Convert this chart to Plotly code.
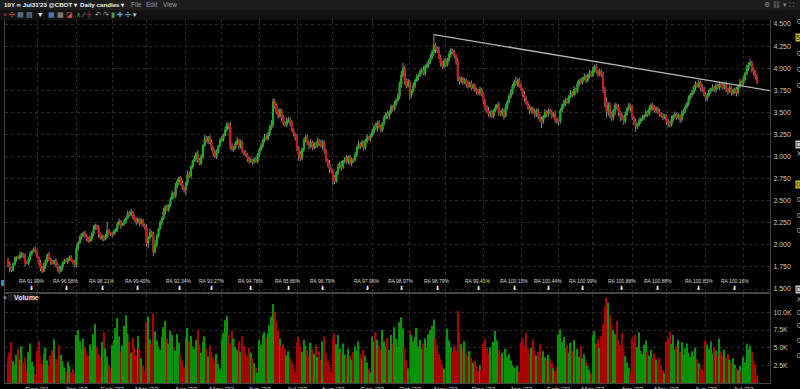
import pandas as pd
import plotly.graph_objects as go

# ---------------- data ----------------
start_date = "2021-11-08"          # first daily candle (business days follow)
first_open = 1.83

closes = [
    # Nov 2021 (17)
    1.78, 1.74, 1.71, 1.78, 1.84, 1.86, 1.85, 1.88, 1.90, 1.87, 1.80, 1.79, 1.84, 1.90, 1.93, 1.95, 1.92,
    # Dec 2021 (23)
    1.86, 1.80, 1.74, 1.70, 1.76, 1.82, 1.89, 1.84, 1.81, 1.79, 1.82, 1.78, 1.72, 1.70, 1.75, 1.80, 1.82, 1.81, 1.84, 1.86, 1.82, 1.80, 1.77,
    # Jan 2022 (21)
    1.96, 2.02, 2.08, 2.12, 2.13, 2.10, 2.08, 2.04, 2.07, 2.12, 2.18, 2.22, 2.19, 2.12, 2.08, 2.10, 2.06, 2.09, 2.16, 2.14, 2.12,
    # Feb 2022 (20)
    2.12, 2.15, 2.18, 2.24, 2.26, 2.22, 2.24, 2.27, 2.30, 2.36, 2.34, 2.37, 2.32, 2.28, 2.26, 2.29, 2.24, 2.27, 2.22, 2.20,
    # Mar 2022 (23)
    2.02, 2.08, 2.14, 2.12, 1.92, 2.00, 2.10, 2.18, 2.25, 2.30, 2.38, 2.43, 2.40, 2.45, 2.52, 2.58, 2.55, 2.66, 2.72, 2.76, 2.70, 2.64, 2.62,
    # Apr 2022 (21)
    2.70, 2.80, 2.78, 2.88, 2.95, 2.98, 3.03, 2.96, 2.92, 3.00, 3.12, 3.20, 3.18, 3.22, 3.16, 3.10, 3.04, 3.00, 3.06, 3.12, 3.18,
    # May 2022 (22)
    3.20, 3.24, 3.30, 3.36, 3.34, 3.12, 3.08, 3.10, 3.14, 3.18, 3.12, 3.16, 3.06, 3.04, 3.02, 2.98, 2.95, 2.96, 2.94, 2.97, 2.95, 3.02,
    # Jun 2022 (22)
    3.08, 3.12, 3.18, 3.22, 3.20, 3.26, 3.32, 3.36, 3.62, 3.58, 3.50, 3.46, 3.52, 3.44, 3.38, 3.36, 3.40, 3.42, 3.38, 3.30, 3.26, 3.22,
    # Jul 2022 (21)
    3.10, 3.02, 2.98, 3.08, 3.18, 3.22, 3.16, 3.12, 3.16, 3.10, 3.14, 3.12, 3.18, 3.15, 3.12, 3.16, 3.06, 2.96, 2.92, 2.86, 2.84,
    # Aug 2022 (23)
    2.76, 2.72, 2.82, 2.88, 2.92, 2.88, 2.95, 2.98, 2.94, 2.99, 2.93, 2.97, 2.96, 3.02, 3.10, 3.14, 3.12, 3.16, 3.10, 3.18, 3.22, 3.20, 3.24,
    # Sep 2022 (22)
    3.28, 3.34, 3.32, 3.38, 3.34, 3.30, 3.38, 3.44, 3.48, 3.46, 3.50, 3.56, 3.54, 3.60, 3.64, 3.68, 3.82, 3.92, 4.00, 3.86, 3.80, 3.84,
    # Oct 2022 (21)
    3.70, 3.74, 3.80, 3.86, 3.90, 3.92, 3.96, 3.98, 3.94, 4.02, 4.04, 4.08, 4.12, 4.18, 4.26, 4.22, 4.20, 4.12, 4.06, 4.02, 4.08,
    # Nov 2022 (22)
    4.04, 4.10, 4.16, 4.20, 4.18, 4.14, 4.08, 3.88, 3.85, 3.88, 3.84, 3.86, 3.82, 3.80, 3.83, 3.78, 3.80, 3.76, 3.74, 3.72, 3.76, 3.70,
    # Dec 2022 (22)
    3.62, 3.56, 3.52, 3.48, 3.50, 3.46, 3.52, 3.56, 3.58, 3.50, 3.48, 3.52, 3.46, 3.56, 3.62, 3.68, 3.72, 3.80, 3.84, 3.82, 3.86, 3.80,
    # Jan 2023 (22)
    3.76, 3.70, 3.66, 3.60, 3.56, 3.52, 3.54, 3.50, 3.48, 3.52, 3.46, 3.42, 3.40, 3.45, 3.50, 3.48, 3.52, 3.50, 3.46, 3.48, 3.42, 3.40,
    # Feb 2023 (20)
    3.40, 3.52, 3.58, 3.60, 3.64, 3.62, 3.68, 3.72, 3.70, 3.76, 3.74, 3.82, 3.86, 3.84, 3.88, 3.90, 3.86, 3.92, 3.94, 3.92,
    # Mar 2023 (23)
    3.98, 4.02, 3.96, 3.94, 3.96, 3.92, 3.76, 3.62, 3.52, 3.58, 3.48, 3.44, 3.52, 3.58, 3.56, 3.50, 3.46, 3.44, 3.40, 3.48, 3.54, 3.58, 3.55,
    # Apr 2023 (20)
    3.44, 3.40, 3.34, 3.36, 3.40, 3.42, 3.44, 3.46, 3.50, 3.48, 3.54, 3.58, 3.56, 3.52, 3.54, 3.50, 3.48, 3.46, 3.44, 3.46,
    # May 2023 (23)
    3.40, 3.38, 3.36, 3.42, 3.46, 3.48, 3.44, 3.46, 3.42, 3.48, 3.52, 3.56, 3.60, 3.66, 3.70, 3.72, 3.78, 3.82, 3.80, 3.84, 3.78, 3.76, 3.70,
    # Jun 2023 (22)
    3.66, 3.70, 3.74, 3.76, 3.78, 3.76, 3.80, 3.78, 3.82, 3.80, 3.78, 3.82, 3.76, 3.74, 3.78, 3.72, 3.74, 3.76, 3.72, 3.80, 3.84, 3.82,
    # Jul 2023 (9)
    3.88, 3.94, 4.00, 4.04, 4.06, 3.98, 3.96, 3.90, 3.84,
]

# wick extents above / below the body, in hundredths of a point
wick_up = [
    2,3,1,2,3,1,2,4,2,1,3,2,2,3,1,2,3,
    2,1,3,2,4,2,1,3,2,2,1,3,2,4,2,1,2,3,1,2,2,1,3,
    4,2,3,1,2,3,2,1,3,2,4,2,1,3,2,2,1,3,10,2,1,
    2,3,1,2,4,2,1,3,2,3,2,4,1,2,3,2,1,3,2,2,
    3,2,4,2,3,5,2,1,3,2,4,2,3,1,2,3,2,4,3,1,2,3,2,
    2,4,3,2,1,3,2,4,2,3,2,4,3,1,2,3,2,4,2,1,3,
    3,2,4,3,2,5,3,2,3,4,2,3,2,1,3,2,2,3,1,2,3,2,
    2,3,2,4,3,2,3,5,4,3,2,4,3,2,3,2,4,3,2,3,2,1,
    3,2,4,2,3,2,3,2,4,2,3,2,3,2,4,3,2,3,2,4,2,
    2,3,2,4,2,3,1,2,4,2,3,2,1,3,2,4,2,3,2,2,3,1,2,
    3,2,4,2,3,2,1,3,2,4,2,3,2,3,2,4,3,5,6,3,2,4,
    3,2,4,2,3,2,3,2,4,2,3,2,4,3,12,3,2,4,3,2,3,
    3,2,4,3,2,3,2,4,2,3,2,3,2,4,2,3,2,3,2,2,3,2,
    2,3,2,4,2,3,2,3,2,4,2,3,2,3,2,3,4,2,3,6,2,3,
    3,2,4,2,3,2,3,2,4,2,3,2,3,2,4,2,3,2,3,2,4,2,
    2,3,2,4,2,3,2,3,2,4,2,3,2,3,2,4,3,2,4,3,
    4,2,3,2,3,2,4,3,5,3,4,3,2,3,2,3,2,4,2,3,2,3,2,
    3,2,3,2,4,2,3,2,3,2,4,2,3,2,3,2,4,2,3,2,
    2,3,2,4,2,3,2,3,2,4,2,3,2,3,2,4,2,3,2,3,2,4,3,
    3,2,3,2,4,2,3,2,3,2,4,2,3,2,3,2,3,2,3,2,4,2,
    3,2,4,3,4,2,3,2,3,
]
wick_dn = [
    3,5,2,1,2,3,1,2,3,2,4,1,2,2,3,1,2,
    1,3,4,2,1,3,2,2,4,1,2,3,2,3,1,4,2,1,3,2,1,2,3,
    2,3,1,2,3,2,4,2,1,3,2,1,2,4,2,3,2,1,2,3,2,
    3,1,2,3,2,4,1,2,3,1,2,2,3,2,4,2,3,1,2,3,
    4,6,2,3,5,2,3,2,1,3,2,4,2,3,2,1,3,2,2,4,3,2,3,
    6,3,2,3,2,1,4,3,2,2,3,1,2,4,2,3,4,2,3,2,1,
    2,3,1,2,3,4,2,3,2,1,4,3,2,3,2,4,3,2,3,2,2,3,
    3,2,3,2,1,2,3,2,3,4,2,3,2,4,3,2,3,2,4,2,3,4,
    4,7,3,2,3,2,3,4,2,3,2,3,2,3,2,4,3,2,4,5,3,
    8,3,2,3,2,4,2,3,2,3,2,4,3,2,3,2,4,2,3,2,3,2,3,
    2,3,2,4,2,3,2,3,2,3,4,2,3,2,3,2,3,4,2,5,3,2,
    5,3,2,3,2,4,2,3,2,3,2,4,3,2,4,5,3,2,4,3,2,
    3,2,3,4,2,3,4,3,4,2,3,2,4,3,2,3,2,3,4,2,3,2,
    3,4,2,3,4,2,3,2,3,4,2,3,4,2,3,2,3,2,3,2,3,2,
    2,3,4,2,3,4,3,2,4,3,4,3,8,3,2,4,3,2,3,2,4,3,
    5,3,2,4,3,2,3,2,3,2,4,2,3,2,3,2,3,2,3,2,
    2,3,2,4,3,2,4,6,8,6,5,4,3,5,3,4,6,3,4,3,2,3,4,
    3,4,6,3,2,3,2,3,2,3,2,3,4,2,3,2,3,2,3,2,
    4,5,3,2,3,2,3,2,4,3,2,3,2,3,2,3,2,3,2,3,4,3,2,
    4,3,2,3,2,3,4,2,3,2,3,2,3,4,2,3,2,3,4,2,3,2,
    2,3,2,3,2,3,4,3,2,
]

# daily volume, thousands of contracts
volumes = [
    3.5, 4.2, 5.8, 3.1, 2.6, 4.0, 4.8, 3.3, 5.2, 2.9, 3.6, 1.8, 4.4, 5.6, 3.0, 2.4, 1.2,
    4.6, 5.9, 3.8, 2.7, 4.1, 5.0, 3.2, 2.5, 3.9, 4.7, 6.2, 3.4, 2.8, 5.3, 4.0, 3.1, 2.2, 1.6, 3.0, 2.4, 1.5, 2.0, 1.3,
    6.8, 7.5, 5.9, 4.8, 6.3, 5.1, 4.2, 3.8, 5.5, 4.6, 6.9, 8.4, 5.2, 4.1, 3.6, 5.8, 7.2, 4.9, 3.7, 2.6, 1.9,
    5.4, 6.1, 7.8, 9.2, 6.6, 4.5, 5.3, 8.1, 9.6, 7.0, 5.8, 4.3, 6.4, 5.1, 3.9, 6.7, 4.8, 3.5, 2.4, 1.7,
    8.6, 9.4, 6.2, 5.5, 9.8, 7.3, 6.0, 5.2, 4.7, 6.5, 7.9, 8.8, 6.3, 5.6, 7.4, 6.8, 5.1, 4.6, 6.9, 5.7, 4.0, 3.1, 2.2,
    6.4, 7.8, 5.9, 6.7, 5.2, 4.8, 6.1, 7.5, 5.4, 4.3, 5.8, 6.6, 4.9, 3.8, 5.3, 4.4, 3.6, 3.0, 4.1, 2.7, 1.9,
    6.2, 7.1, 8.9, 9.5, 6.8, 5.6, 7.4, 6.3, 5.1, 4.7, 5.9, 4.4, 6.6, 5.3, 4.2, 3.9, 5.0, 4.3, 3.5, 2.8, 2.2, 1.5,
    6.1, 5.4, 6.8, 7.2, 6.4, 7.0, 8.2, 9.4, 11.2, 10.1, 8.7, 7.5, 6.3, 5.2, 5.5, 4.8, 3.9, 4.5, 3.6, 2.9, 2.1, 1.6,
    5.8, 6.5, 5.2, 4.4, 6.1, 5.3, 4.6, 3.9, 5.7, 4.8, 4.1, 5.4, 3.7, 4.5, 3.3, 5.9, 6.6, 4.2, 3.1, 2.3, 1.6,
    6.3, 7.0, 5.5, 6.8, 4.9, 4.3, 5.6, 4.0, 3.6, 4.8, 3.9, 3.3, 4.4, 5.2, 4.6, 5.9, 4.1, 3.5, 4.7, 3.8, 2.9, 2.0, 1.5,
    6.6, 5.8, 7.2, 6.1, 5.4, 4.8, 7.5, 5.9, 5.2, 6.4, 4.7, 6.8, 5.5, 7.9, 6.3, 5.1, 8.6, 9.3, 7.7, 4.9, 3.2, 2.1,
    7.4, 6.8, 5.9, 6.5, 7.8, 5.2, 6.1, 4.9, 5.6, 6.3, 5.0, 6.9, 7.5, 8.1, 9.0, 6.4, 5.3, 4.1, 3.4, 2.6, 2.0,
    6.2, 7.7, 6.0, 5.1, 4.4, 5.3, 4.6, 10.2, 7.1, 5.5, 4.8, 5.9, 4.3, 3.8, 4.5, 3.6, 2.9, 3.1, 2.4, 1.7, 2.5, 1.9,
    5.6, 6.3, 4.9, 4.2, 5.1, 4.5, 5.8, 7.4, 6.0, 4.7, 3.9, 4.3, 3.5, 4.8, 3.7, 4.1, 3.2, 2.6, 2.2, 1.8, 2.4, 1.6,
    5.7, 6.4, 5.3, 7.1, 4.8, 4.2, 5.0, 6.2, 4.6, 3.9, 4.4, 5.5, 3.8, 4.5, 3.6, 3.2, 4.0, 3.4, 2.8, 2.1, 1.7, 2.3,
    6.9, 7.6, 5.8, 6.5, 4.9, 5.4, 4.3, 5.7, 4.6, 6.1, 4.0, 4.8, 3.7, 5.2, 3.5, 4.1, 3.0, 2.4, 1.9, 1.5,
    6.8, 7.3, 5.6, 6.2, 5.0, 6.7, 8.4, 10.9, 12.1, 11.4, 9.6, 8.2, 7.5, 6.9, 8.8, 6.1, 5.4, 7.0, 4.9, 3.8, 2.9, 2.2, 1.6,
    6.3, 5.7, 6.8, 5.1, 7.2, 4.6, 4.1, 5.4, 6.0, 4.4, 3.9, 4.7, 3.5, 4.2, 3.3, 2.9, 3.6, 2.5, 1.8, 1.4,
    5.9, 6.4, 7.3, 5.5, 6.8, 4.7, 5.2, 6.1, 4.4, 5.8, 4.0, 4.9, 5.6, 4.3, 3.7, 4.5, 3.9, 5.0, 3.4, 2.8, 2.3, 1.9, 1.5,
    6.0, 5.4, 4.8, 5.9, 4.2, 5.1, 4.6, 3.8, 6.3, 4.4, 3.9, 4.7, 3.6, 4.1, 3.3, 2.9, 3.5, 2.6, 2.1, 1.8, 2.4, 1.6,
    3.7, 2.9, 5.6, 4.8, 5.3, 4.4, 3.2, 2.6, 1.1,
]

# downward trendline drawn on the chart
trend_dates = ["2022-10-21", "2023-07-24 14:00"]
trend_values = [4.38, 3.745]

# roll-adjustment markers
ra_dates = ["2021-11-26", "2021-12-24", "2022-01-24", "2022-02-22", "2022-03-28",
            "2022-04-22", "2022-05-25", "2022-06-24", "2022-07-22", "2022-08-29",
            "2022-09-26", "2022-10-25", "2022-11-28", "2022-12-27", "2023-01-24",
            "2023-02-21", "2023-03-24", "2023-04-24", "2023-05-26", "2023-06-26"]
ra_labels = ["RA 91.99%", "RA 96.58%", "RA 98.21%", "RA 99.40%", "RA 92.34%",
             "RA 93.27%", "RA 94.78%", "RA 95.86%", "RA 96.79%", "RA 97.96%",
             "RA 98.97%", "RA 98.79%", "RA 99.41%", "RA 100.13%", "RA 100.44%",
             "RA 100.99%", "RA 100.88%", "RA 100.88%", "RA 100.83%", "RA 100.16%"]

price_ticks = [1.5, 1.75, 2.0, 2.25, 2.5, 2.75, 3.0, 3.25, 3.5, 3.75, 4.0, 4.25, 4.5]
volume_ticks = [2.5, 5.0, 7.5, 10.0]
volume_tick_labels = ["2.5K", "5.0K", "7.5K", "10.0K"]

x_range = ["2021-11-04 06:00", "2023-07-24 14:00"]

# ---------------- build ----------------
n = min(len(closes), len(wick_up), len(wick_dn), len(volumes))
closes, wick_up, wick_dn, volumes = closes[:n], wick_up[:n], wick_dn[:n], volumes[:n]
dates = pd.bdate_range(start_date, periods=n)
opens = [first_open] + closes[:-1]
body_hi = [max(o, c) for o, c in zip(opens, closes)]
body_lo = [min(o, c) for o, c in zip(opens, closes)]
highs = [b + u / 100 for b, u in zip(body_hi, wick_up)]
lows = [b - d / 100 for b, d in zip(body_lo, wick_dn)]

GREEN, RED = "#13b313", "#d11414"
VGREEN, VRED = "#0a910a", "#a80404"
WICK = "#8c8c8c"
GRID = "#2b2b2b"
BORDER = "#444444"
TXT = "#c8c8c8"
FONT = "Liberation Sans, Arial, sans-serif"
vol_colors = [VGREEN if c >= o else VRED for o, c in zip(opens, closes)]

W, H = 800, 389
ML, MR, MT, MB = 5, 30, 20, 6
PW, PH = W - ML - MR, H - MT - MB


def fx(px):
    return (px - ML) / PW


def fy(py):
    return (H - MB - py) / PH


fig = go.Figure()
fig.add_trace(go.Candlestick(
    x=dates, open=opens, high=highs, low=lows, close=closes,
    increasing=dict(line=dict(color=WICK, width=1), fillcolor=WICK),
    decreasing=dict(line=dict(color=WICK, width=1), fillcolor=WICK),
    whiskerwidth=0, hoverinfo="skip", showlegend=False, xaxis="x", yaxis="y"))
fig.add_trace(go.Candlestick(
    x=dates, open=opens, high=body_hi, low=body_lo, close=closes,
    increasing=dict(line=dict(color=GREEN, width=1), fillcolor=GREEN),
    decreasing=dict(line=dict(color=RED, width=1), fillcolor=RED),
    whiskerwidth=0, hoverinfo="skip", showlegend=False, xaxis="x", yaxis="y"))
fig.add_trace(go.Scatter(
    x=trend_dates, y=trend_values, mode="lines",
    line=dict(color="#b4b4b4", width=1.3), hoverinfo="skip",
    showlegend=False, xaxis="x", yaxis="y"))
fig.add_trace(go.Bar(
    x=dates, y=volumes, marker=dict(color=vol_colors, line=dict(width=0)),
    hoverinfo="skip", showlegend=False, xaxis="x2", yaxis="y2"))

axis_common = dict(showgrid=True, gridcolor=GRID, griddash="dot", gridwidth=1,
                   zeroline=False, showline=True, mirror=True, linecolor=BORDER,
                   linewidth=1, ticks="", tickfont=dict(family=FONT, size=7, color=TXT))
date_common = dict(type="date", rangebreaks=[dict(bounds=["sat", "mon"])],
                   dtick="M1", tick0="2021-12-01", rangeslider=dict(visible=False))

fig.update_layout(
    width=W, height=H, margin=dict(l=ML, r=MR, t=MT, b=MB, autoexpand=False),
    paper_bgcolor="#000000", plot_bgcolor="#000000",
    bargap=0.12, showlegend=False, hovermode=False,
    font=dict(family=FONT, size=7, color=TXT),
    xaxis=dict(**axis_common, **date_common, domain=[0, 1], anchor="y",
               range=x_range, showticklabels=False),
    yaxis=dict(**axis_common, domain=[fy(292), 1], anchor="x", side="right",
               range=[1.466, 4.5453], tickvals=price_ticks, tickformat=".3f",
               ticklabelstandoff=1),
    xaxis2=dict(**axis_common, **date_common, domain=[0, 1], anchor="y2",
                matches="x", range=x_range, tickformat="%b '%y",
                ticklabelstandoff=0),
    yaxis2=dict(**axis_common, domain=[0, fy(294)], anchor="x2", side="right",
                range=[0, 12.6], tickvals=volume_ticks, ticktext=volume_tick_labels,
                ticklabelstandoff=1),
)

shapes = [
    dict(type="rect", xref="paper", yref="paper", x0=fx(0), x1=fx(800), y0=fy(10), y1=fy(0),
         fillcolor="#1d1d1d", line=dict(width=0), layer="above"),
    dict(type="rect", xref="paper", yref="paper", x0=fx(0), x1=fx(800), y0=fy(20), y1=fy(10),
         fillcolor="#111111", line=dict(width=0), layer="above"),
    dict(type="rect", xref="paper", yref="paper", x0=fx(8), x1=fx(36), y0=fy(301), y1=fy(293),
         fillcolor="#1a1a1a", line=dict(width=0), layer="above"),
    dict(type="rect", xref="paper", yref="paper", x0=fx(1), x1=fx(4), y0=fy(286), y1=fy(280),
         fillcolor="#2f8fb0", line=dict(width=0), layer="above"),
]
fig.update_layout(shapes=shapes)

ann = []


def txt(x, y, s, size=7, color=TXT, anchor="left", bold=False, bg=None):
    d = dict(xref="paper", yref="paper", x=fx(x), y=fy(y), text=("<b>%s</b>" % s) if bold else s,
             showarrow=False, xanchor=anchor, yanchor="middle",
             font=dict(family=FONT, size=size, color=color))
    if bg:
        d["bgcolor"] = bg
        d["borderpad"] = 0
    ann.append(d)


txt(2, 5, "10Y ∞ Jul31'23 @CBOT ▾", 6.2, "#f0f0f0", bold=True)
txt(78, 5, "Daily candles ▾", 6.2, "#f0f0f0", bold=True)
txt(129, 5, "File", 6.5, "#9a9a9a")
txt(144, 5, "Edit", 6.5, "#9a9a9a")
txt(161, 5, "View", 6.5, "#9a9a9a")
icons = ('<span style="color:#d04040">×</span> <span style="color:#c05050">✣</span> '
         '<span style="color:#8aa0c8">▤</span> <span style="color:#8aa0c8">▨</span>  '
         '<span style="color:#e0e0e0">▼</span>  <span style="color:#7090d0">▦</span> '
         '<span style="color:#a0a0a0">▩</span> <span style="color:#d05050">◪</span>  '
         '<span style="color:#50a050">∧</span> <span style="color:#a0a0a0">⁄</span> '
         '<span style="color:#c04040">┼</span>  <span style="color:#b0b0b0">↶</span> '
         '<span style="color:#b0b0b0">↷</span> <span style="color:#50a060">▮</span> '
         '<span style="color:#60a0d0">✚</span> <span style="color:#60b0d0">✣</span> '
         '<span style="color:#c0c0c0">▾</span>')
txt(1, 15, icons, 7)
txt(762, 5, "⚙ ⛓ ▾ ⛶", 7, "#8a8a8a")
txt(12, 297, "Volume", 7, "#e0e0e0", bold=True)
txt(1, 297, "×", 7, "#d0d0d0")

for yy, s, bg in [(22, "0", None), (38, "5", "#c8c020"), (53, "0", None), (69, "0", None),
                  (85, "0", None), (144, "D", "#cfcfcf"), (154, "X", None),
                  (184, "0", "#c8c020"), (199, "0", None), (215, "0", None), (230, "0", None),
                  (289, "D", "#cfcfcf"), (299, "X", None), (312, "0", None), (325, "0", None),
                  (340, "0", None), (355, "0", None)]:
    txt(795, yy, s, 7, "#111111" if bg else "#bdbdbd", bg=bg)

for d, lab in zip(ra_dates, ra_labels):
    ann.append(dict(xref="x", yref="y domain", x=d, y=0.040, text=lab, showarrow=False,
                    xanchor="center", yanchor="middle",
                    font=dict(family=FONT, size=5, color="#d8d8d8")))
    ann.append(dict(xref="x", yref="y domain", x=d, y=0.016, text="⬇", showarrow=False,
                    xanchor="center", yanchor="middle",
                    font=dict(family="DejaVu Sans", size=6, color="#f2f2f2")))

fig.update_layout(annotations=ann)
fig.write_html("out.html", config={"displayModeBar": False},
               post_script="document.body.style.margin='0';document.body.style.overflow='hidden';")
